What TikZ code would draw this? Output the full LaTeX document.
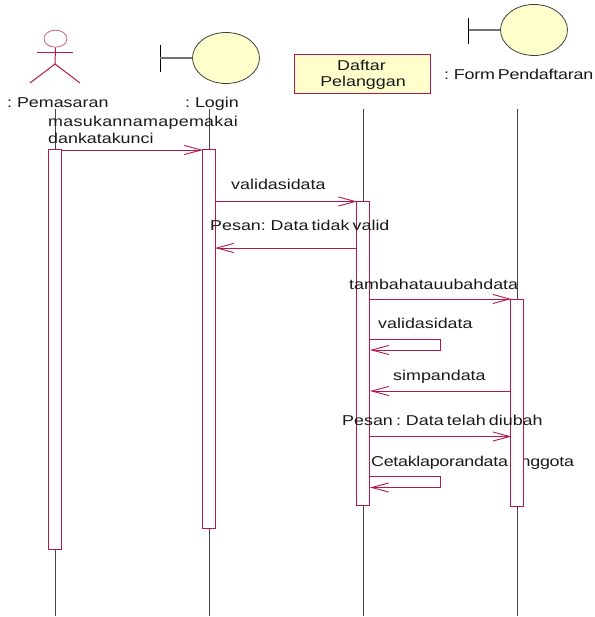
\documentclass[tikz,border=0pt]{standalone}
\usepackage{fontspec}
\setmainfont[FakeStretch=1.25,WordSpace=0.65]{Liberation Sans}
\usetikzlibrary{arrows.meta,shapes.geometric}
\definecolor{rose}{RGB}{176,24,80}
\definecolor{creamy}{RGB}{255,255,204}
\definecolor{lifeg}{RGB}{70,70,70}
\tikzset{
 x=1pt,y=-1pt,
 actorline/.style={draw=rose,line width=1pt},
 lifeline/.style={draw=lifeg,line width=0.8pt},
 activation/.style={draw=rose,fill=white,line width=1pt,minimum width=13pt,inner sep=0pt,anchor=north},
 msg/.style={draw=rose,line width=0.9pt,-{Straight Barb[length=17pt,width=11pt,angle'=30,line width=0.9pt]}},
 lbl/.style={font=\fontsize{14.3pt}{16pt}\selectfont,text=black!90,anchor=base west,inner sep=0pt},
 boundarycirc/.style={ellipse,draw=black!75,fill=creamy,line width=0.8pt,minimum width=67pt,minimum height=51pt,inner sep=0pt},
 boundarystem/.style={draw=black!55,line width=1.1pt},
 boundarybar/.style={draw=black,line width=0.9pt},
}
\begin{document}
\begin{tikzpicture}
\useasboundingbox (0,0) rectangle (594,617);
% actor
\node[ellipse,draw=rose!70,line width=0.8pt,minimum width=23pt,minimum height=17pt,inner sep=0pt] (head) at (55.5,38.7) {};
\coordinate (armL) at (37,52.3); \coordinate (armR) at (73,52.3);
\coordinate (hip) at (55,64); \coordinate (legL) at (30,83); \coordinate (legR) at (80,83);
\draw[actorline] (armL) -- (armR);
\draw[actorline] (head.south) -- (hip);
\draw[actorline] (legL) -- (hip) -- (legR);
% boundary Login
\node[boundarycirc] (login) at (226,58) {};
\coordinate (lbT) at (160.3,45.5); \coordinate (lbB) at (160.3,72.5);
\draw[boundarybar] (lbT) -- (lbB);
\draw[boundarystem] (login.west) -- (lbT |- login.west);
% class box
\node[draw=rose,fill=creamy,line width=1pt,minimum width=136pt,minimum height=39pt,inner sep=0pt] (daftar) at (362.5,74.5) {};
\node[lbl,anchor=base] (dt1) at (361.5,71) {Daftar};
\node[lbl,anchor=base] (dt2) at (363,87) {Pelanggan};
% boundary Form
\node[boundarycirc] (form) at (534,30) {};
\coordinate (fbT) at (468.6,18); \coordinate (fbB) at (468.6,44.5);
\draw[boundarybar] (fbT) -- (fbB);
\draw[boundarystem] (form.west) -- (fbT |- form.west);
% lifelines
\coordinate (l1t) at (55,109); \coordinate (l1b) at (55,616);
\coordinate (l2t) at (209,109); \coordinate (l2b) at (209,616);
\coordinate (l3t) at (363,109); \coordinate (l3b) at (363,616);
\coordinate (l4t) at (517.5,109); \coordinate (l4b) at (517.5,616);
\foreach \i in {1,2,3,4} \draw[lifeline] (l\i t) -- (l\i b);
% activations
\node[activation,minimum height=399pt] (a1) at (54.5,149.5) {};
\node[activation,minimum height=378pt] (a2) at (208.5,149.5) {};
\node[activation,minimum height=304pt] (a3) at (362.5,201) {};
% labels
\node[lbl] (t0a) at (7,108) {: Pemasaran};
\node[lbl] (t0b) at (185,108) {: Login};
\node[lbl] (t0d) at (444,80) {\addfontfeatures{LetterSpace=-1.5}: Form Pendaftaran};
\node[lbl] (t1) at (48,127) {\addfontfeatures{LetterSpace=2}masukannamapemakai};
\node[lbl] (t1b) at (48,144) {dankatakunci};
\node[lbl] (t2) at (231,190) {validasidata};
\node[lbl] (t3) at (210,231) {Pesan: Data tidak valid};
\node[lbl] (t4) at (349,289) {tambahatauubahdata};
\node[lbl] (t5) at (378,328.5) {validasidata};
\node[lbl] (t6) at (393,380.5) {simpandata};
\node[lbl] (t8) at (371,466) {\addfontfeatures{LetterSpace=-2}Cetaklaporandata anggota};
\node[activation,minimum height=207pt] (a4) at (517,298.5) {};
\node[lbl] (t7) at (342,425.5) {Pesan : Data telah diubah};
% messages
\coordinate (m1a) at (62,150); \coordinate (m1b) at (203,150);
\coordinate (m2a) at (216,201.5); \coordinate (m2b) at (357,201.5);
\coordinate (m3a) at (356,248); \coordinate (m3b) at (215,248);
\coordinate (m4a) at (370,299); \coordinate (m4b) at (511.5,299);
\coordinate (m5a) at (370,339.5); \coordinate (m5c) at (440,339.5); \coordinate (m5d) at (440,350); \coordinate (m5b) at (370,350);
\coordinate (m6a) at (510.5,391); \coordinate (m6b) at (370,391);
\coordinate (m7a) at (370,436.5); \coordinate (m7b) at (511.5,436.5);
\coordinate (m8a) at (370,476.5); \coordinate (m8c) at (440,476.5); \coordinate (m8d) at (440,487.5); \coordinate (m8b) at (370,487.5);
\draw[msg] (m1a) -- (m1b);
\draw[msg] (m2a) -- (m2b);
\draw[msg] (m3a) -- (m3b);
\draw[msg] (m4a) -- (m4b);
\draw[msg] (m5a) -- (m5c) -- (m5d) -- (m5b);
\draw[msg] (m6a) -- (m6b);
\draw[msg] (m7a) -- (m7b);
\draw[msg] (m8a) -- (m8c) -- (m8d) -- (m8b);
\end{tikzpicture}
\end{document}
